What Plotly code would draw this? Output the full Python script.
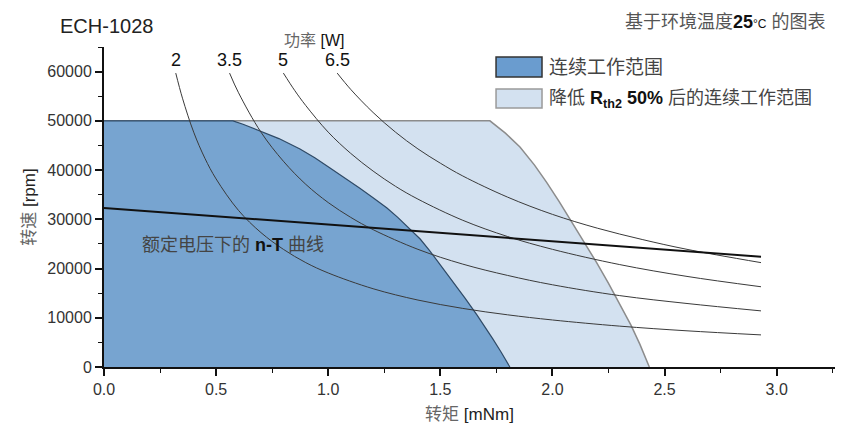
import plotly.graph_objects as go

# ---- data ----
cont_torque = [0.0, 0.575, 0.62, 0.695, 0.78, 0.874, 0.94, 1.008, 1.075, 1.141, 1.20, 1.262,
               1.31, 1.36, 1.41, 1.453, 1.50, 1.556, 1.61, 1.663, 1.70, 1.734, 1.77, 1.81]
cont_speed = [50000, 50000, 49300, 48000, 46400, 44300, 42500, 40400, 38400, 36300, 34400, 32300,
              30400, 28300, 26000, 23600, 20800, 17300, 14000, 10600, 8100, 5700, 3100, 0]

red_torque = [0.0, 1.721, 1.79, 1.855, 1.92, 1.974, 2.03, 2.078, 2.14, 2.197, 2.25, 2.30, 2.35, 2.39, 2.432]
red_speed = [50000, 50000, 47500, 44700, 41000, 37500, 33600, 30100, 25500, 21200, 17000, 12900, 8500, 4600, 0]

nt_torque = [0.0, 2.93]
nt_speed = [32300, 22400]

power_labels = ["2", "3.5", "5", "6.5"]
power_torque = [
    [0.32, 0.35, 0.4, 0.45, 0.5, 0.6, 0.7, 0.8, 0.9, 1.0, 1.2, 1.4, 1.6, 1.8, 2.0, 2.3, 2.6, 2.93],
    [0.56, 0.6, 0.7, 0.8, 0.9, 1.0, 1.1, 1.2, 1.4, 1.6, 1.8, 2.0, 2.3, 2.6, 2.93],
    [0.8, 0.85, 0.9, 1.0, 1.1, 1.2, 1.3, 1.4, 1.6, 1.8, 2.0, 2.3, 2.6, 2.93],
    [1.04, 1.1, 1.2, 1.3, 1.4, 1.5, 1.6, 1.8, 2.0, 2.2, 2.4, 2.6, 2.93],
]
power_speed = [
    [59700, 54600, 47700, 42400, 38200, 31800, 27300, 23900, 21200, 19100, 15900, 13600, 11900, 10600, 9550, 8300, 7350, 6520],
    [59700, 55700, 47700, 41800, 37100, 33400, 30400, 27900, 23900, 20900, 18600, 16700, 14500, 12900, 11400],
    [59700, 56200, 53100, 47700, 43400, 39800, 36700, 34100, 29800, 26500, 23900, 20800, 18400, 16300],
    [59700, 56400, 51700, 47700, 44300, 41400, 38800, 34500, 31000, 28200, 25900, 23900, 21200],
]

x_ticks = [0.0, 0.5, 1.0, 1.5, 2.0, 2.5, 3.0]
y_ticks = [0, 10000, 20000, 30000, 40000, 50000, 60000]

DARK = "#77a4d0"
LIGHT = "#d3e1f0"
FONT = "Liberation Sans, Noto Sans CJK SC"

fig = go.Figure()

fig.add_trace(go.Scatter(x=red_torque, y=red_speed, mode="lines", fill="tozeroy",
                         fillcolor=LIGHT, line=dict(color="#8c8c8c", width=1.5),
                         showlegend=False, hoverinfo="skip"))
fig.add_trace(go.Scatter(x=cont_torque, y=cont_speed, mode="lines", fill="tozeroy",
                         fillcolor=DARK, line=dict(color="#2f4a66", width=1.2),
                         showlegend=False, hoverinfo="skip"))

for tq, sp in zip(power_torque, power_speed):
    fig.add_trace(go.Scatter(x=tq, y=sp, mode="lines", line=dict(color="#3a3a3a", width=1),
                             line_shape="spline", showlegend=False, hoverinfo="skip"))

fig.add_trace(go.Scatter(x=nt_torque, y=nt_speed, mode="lines",
                         line=dict(color="#111111", width=2), showlegend=False, hoverinfo="skip"))

annotations = []
for lab, tq in zip(power_labels, power_torque):
    annotations.append(dict(x=tq[0], y=62300, xref="x", yref="y", text=lab, showarrow=False,
                            font=dict(family=FONT, size=18, color="#111")))

annotations += [
    dict(x=-0.063, y=1.066, xref="paper", yref="paper", xanchor="left", yanchor="middle",
         text="ECH-1028", showarrow=False, font=dict(family=FONT, size=20, color="#222")),
    dict(x=0.99, y=1.078, xref="paper", yref="paper", xanchor="right", yanchor="middle",
         text="<span style='color:#555'>基于环境温度</span><b>25</b><span style='font-size:12px'>°C</span> <span style='color:#555'>的图表</span>",
         showarrow=False, font=dict(family=FONT, size=18, color="#111")),
    dict(x=0.287, y=1.02, xref="paper", yref="paper", xanchor="center", yanchor="middle",
         text="<span style='color:#666'>功率</span> [W]", showarrow=False,
         font=dict(family=FONT, size=16, color="#111")),
    dict(x=0.606, y=0.9375, xref="paper", yref="paper", xanchor="left", yanchor="middle",
         text="连续工作范围", showarrow=False, font=dict(family=FONT, size=19, color="#444")),
    dict(x=0.606, y=0.8375, xref="paper", yref="paper", xanchor="left", yanchor="middle",
         text="<span style='color:#444'>降低</span> <b>R<sub>th2</sub> 50%</b> <span style='color:#444'>后的连续工作范围</span>",
         showarrow=False, font=dict(family=FONT, size=18, color="#111")),
    dict(x=0.16, y=24750, xref="x", yref="y", xanchor="left", yanchor="middle",
         text="<span style='color:#444'>额定电压下的</span> <b>n-T</b> <span style='color:#444'>曲线</span>",
         showarrow=False, font=dict(family=FONT, size=18, color="#111")),
]

shapes = [
    dict(type="rect", xref="paper", yref="paper", x0=0.5363, x1=0.5992, y0=0.9063, y1=0.9688,
         fillcolor="#6a9ccf", line=dict(color="#333", width=1.5)),
    dict(type="rect", xref="paper", yref="paper", x0=0.5363, x1=0.5992, y0=0.8094, y1=0.8688,
         fillcolor=LIGHT, line=dict(color="#9a9a9a", width=1.5)),
]

fig.update_layout(
    width=852, height=424,
    margin=dict(l=104, r=17, t=47, b=57),
    plot_bgcolor="white", paper_bgcolor="white",
    annotations=annotations, shapes=shapes,
    xaxis=dict(range=[0, 3.26], tickvals=x_ticks, tickformat=".1f", ticks="outside",
               ticklen=7, tickwidth=1.5, tickcolor="#111", showline=True, linecolor="#111",
               linewidth=2, showgrid=False, zeroline=False, automargin=False,
               minor=dict(dtick=0.25, ticks="outside", ticklen=4, tickwidth=1.2, tickcolor="#111"),
               tickfont=dict(family=FONT, size=16, color="#333"),
               title=dict(text="<span style='color:#666'>转矩</span> [mNm]", standoff=11,
                          font=dict(family=FONT, size=17, color="#222"))),
    yaxis=dict(range=[0, 65000], tickvals=y_ticks, tickformat="d", ticks="outside",
               ticklen=7, tickwidth=1.5, tickcolor="#111", showline=True, linecolor="#111",
               linewidth=2, showgrid=False, zeroline=False, automargin=False,
               minor=dict(dtick=5000, ticks="outside", ticklen=4, tickwidth=1.2, tickcolor="#111"),
               tickfont=dict(family=FONT, size=16, color="#333"),
               title=dict(text="<span style='color:#666'>转速</span> [rpm]", standoff=7,
                          font=dict(family=FONT, size=17, color="#222"))),
)

fig.write_html("out.html")
